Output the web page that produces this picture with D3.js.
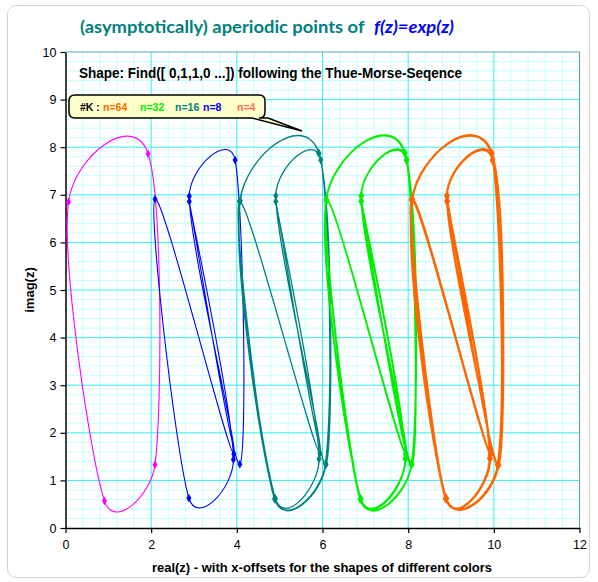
<!DOCTYPE html>
<html>
<head>
<meta charset="utf-8">
<script src="https://cdn.jsdelivr.net/npm/d3@7/dist/d3.min.js"></script>
<style>
    body { margin: 0; background: #fff; }
    text { font-family: "Liberation Sans", Arial, sans-serif; }
</style>
</head>
<body>
<div id="chart"></div>
<script>
const width = 598, height = 582;

const xTicks = [0, 2, 4, 6, 8, 10, 12];
const yTicks = [0, 1, 2, 3, 4, 5, 6, 7, 8, 9, 10];

const seriesNames = ["n=64", "n=32", "n=16", "n=8", "n=4"];
const legendColors = ["#ff6600", "#00ee00", "#008080", "#0000ff", "#ff6f50"];

// n=4, offset 0
const pointsN4 = [[0.91,0.57],[0.07,6.85],[1.93,7.86],[2.09,1.33]];

// n=8, offset 2
const pointsN8 = [[3.93,1.55],[2.89,6.97],[3.96,7.73],[4.07,1.34],[2.89,6.86],[3.92,1.44],[2.88,0.63],[2.09,6.91]];

// n=16, offset 4
const pointsN16 = [
    [4.89,0.60],[4.07,6.87],[5.92,7.87],[6.08,1.34],[4.91,6.86],[5.92,1.45],[4.90,0.62],[4.08,6.88],
    [5.91,7.88],[6.07,1.35],[4.88,0.61],[4.06,6.86],[5.94,1.57],[4.91,6.98],[5.96,7.73],[6.08,1.33]
];

// n=32, offset 6
const pointsN32 = [
    [7.94,1.55],[6.90,6.98],[7.96,7.73],[8.08,1.34],[6.90,6.86],[7.93,1.45],[6.89,0.61],[6.09,6.89],
    [7.92,7.87],[8.08,1.33],[6.88,0.60],[6.10,6.88],[7.95,1.56],[6.91,6.98],[7.97,7.74],[8.09,1.34],
    [6.90,6.87],[7.93,1.46],[6.89,0.62],[6.09,6.90],[7.94,1.55],[6.90,6.97],[7.96,7.72],[8.08,1.35],
    [6.90,0.61],[6.08,6.89],[7.93,7.88],[8.07,1.33],[6.91,6.86],[7.94,1.45],[6.89,0.60],[6.10,6.89]
];

// n=64, offset 8
const pointsN64 = [
    [8.88,0.62],[8.09,6.90],[9.95,7.87],[10.10,1.32],[8.91,6.86],[9.91,1.46],[8.89,0.61],[8.10,6.91],
    [9.94,7.88],[10.09,1.33],[8.88,0.63],[8.08,6.89],[9.92,1.55],[8.91,6.98],[9.97,7.73],[10.10,1.31],
    [8.92,6.86],[9.90,1.47],[8.87,0.62],[8.09,6.89],[9.93,1.54],[8.90,6.97],[9.98,7.74],[10.11,1.32],
    [8.89,0.62],[8.09,6.91],[9.95,7.86],[10.10,1.33],[8.91,6.87],[9.91,1.45],[8.88,0.61],[8.10,6.90],
    [9.96,7.87],[10.09,1.32],[8.88,0.62],[8.08,6.90],[9.92,1.56],[8.91,6.98],[9.97,7.72],[10.10,1.34],
    [8.89,0.63],[8.09,6.89],[9.95,7.88],[10.11,1.32],[8.90,6.86],[9.91,1.46],[8.88,0.61],[8.10,6.90],
    [9.93,1.55],[8.91,6.97],[9.97,7.73],[10.10,1.33],[8.91,6.87],[9.92,1.46],[8.87,0.62],[8.09,6.89],
    [9.94,7.87],[10.10,1.32],[8.89,0.62],[8.08,6.90],[9.92,1.54],[8.90,6.98],[9.97,7.74],[10.09,1.33]
];

// drawn from n=4 up to n=64, so the later series sit on top
const allSeries = [pointsN4, pointsN8, pointsN16, pointsN32, pointsN64];
const seriesColors = ["#ff00ff", "#0000ff", "#008080", "#00ee00", "#ff6600"];
const lineWidths = [1.1, 1.1, 1.3, 1.5, 1.7];

const plot = {left: 65.5, right: 579.5, top: 52, bottom: 528};

const x = d3.scaleLinear().domain([0, 12]).range([plot.left, plot.right]);
const y = d3.scaleLinear().domain([0, 10]).range([plot.bottom, plot.top]);

const svg = d3.select("#chart").append("svg")
    .attr("width", width)
    .attr("height", height);

// outer frame
svg.append("rect")
    .attr("x", 7.5).attr("y", 5.5)
    .attr("width", 582).attr("height", 572)
    .attr("rx", 9)
    .attr("fill", "#fff")
    .attr("stroke", "#aaa")
    .attr("stroke-dasharray", "1,1");

// grid
const minorX = d3.range(0, 12.001, 0.4).filter(v => Math.abs(v/2 - Math.round(v/2)) > 0.01);
const minorY = d3.range(0, 10.001, 0.2).filter(v => Math.abs(v - Math.round(v)) > 0.01);

svg.append("g").selectAll("line")
    .data(minorX).enter().append("line")
    .attr("x1", d => x(d)).attr("x2", d => x(d))
    .attr("y1", plot.top).attr("y2", plot.bottom)
    .attr("stroke", "#c6ffff");
svg.append("g").selectAll("line")
    .data(minorY).enter().append("line")
    .attr("x1", plot.left).attr("x2", plot.right)
    .attr("y1", d => y(d)).attr("y2", d => y(d))
    .attr("stroke", "#c6ffff");
svg.append("g").selectAll("line")
    .data(xTicks.slice(1, -1)).enter().append("line")
    .attr("x1", d => x(d)).attr("x2", d => x(d))
    .attr("y1", plot.top).attr("y2", plot.bottom)
    .attr("stroke", "#33f0f0");
svg.append("g").selectAll("line")
    .data(yTicks.slice(1, -1)).enter().append("line")
    .attr("x1", plot.left).attr("x2", plot.right)
    .attr("y1", d => y(d)).attr("y2", d => y(d))
    .attr("stroke", "#33f0f0");

// top and right border
svg.append("path")
    .attr("d", `M${plot.left},${plot.top}H${plot.right}V${plot.bottom}`)
    .attr("fill", "none")
    .attr("stroke", "#5aa8a8")
    .attr("stroke-width", 1.2);

// axes
const xAxis = svg.append("g")
    .attr("transform", `translate(0,${plot.bottom})`)
    .call(d3.axisBottom(x).tickValues(xTicks).tickSize(5).tickSizeOuter(0).tickFormat(d3.format("d")));
const yAxis = svg.append("g")
    .attr("transform", `translate(${plot.left},0)`)
    .call(d3.axisLeft(y).tickValues(yTicks).tickSize(5).tickSizeOuter(0).tickFormat(d3.format("d")));

[xAxis, yAxis].forEach(a => {
    a.select(".domain").attr("stroke", "#000").attr("stroke-width", 1.5);
    a.selectAll(".tick line").attr("stroke", "#000").attr("stroke-width", 1.2);
    a.selectAll(".tick text")
        .attr("fill", "#000")
        .style("font-family", "'Liberation Sans', Arial, sans-serif")
        .style("font-size", "12.5px");
});
xAxis.selectAll(".tick text").attr("dy", "1.05em");
yAxis.selectAll(".tick text").attr("x", -9);

// spreadsheet-style smoothing: bezier arms of 1/6 of the neighbour chord,
// capped at half the segment length
function smoothClosed (pts) {
    const p = pts.map(d => [x(d[0]), y(d[1])]);
    const n = p.length;
    const path = d3.path();
    path.moveTo(p[0][0], p[0][1]);
    for (let i=0; i<n; i++) {
        const p0 = p[(i-1+n)%n], p1 = p[i], p2 = p[(i+1)%n], p3 = p[(i+2)%n];
        const half = Math.hypot(p2[0]-p1[0], p2[1]-p1[1])/2;
        const arm = (a, b) => {
            let dx = (b[0]-a[0])/6, dy = (b[1]-a[1])/6;
            const len = Math.hypot(dx, dy);
            if (len>half) { dx *= half/len; dy *= half/len; }
            return [dx, dy];
        };
        const a1 = arm(p0, p2), a2 = arm(p1, p3);
        path.bezierCurveTo(p1[0]+a1[0], p1[1]+a1[1], p2[0]-a2[0], p2[1]-a2[1], p2[0], p2[1]);
    }
    path.closePath();
    return path.toString();
}

const diamond = d3.symbol().type(d3.symbolDiamond).size(22);

allSeries.forEach((pts, i) => {
    const g = svg.append("g");
    g.append("path")
        .attr("d", smoothClosed(pts))
        .attr("fill", "none")
        .attr("stroke", seriesColors[i])
        .attr("stroke-width", lineWidths[i]);
    g.selectAll("path.mark")
        .data(pts).enter().append("path")
        .attr("class", "mark")
        .attr("d", diamond)
        .attr("transform", d => `translate(${x(d[0])},${y(d[1])})`)
        .attr("fill", seriesColors[i]);
});

// title, one text element with two coloured parts
const title = svg.append("text")
    .attr("x", 80).attr("y", 33)
    .attr("textLength", 374).attr("lengthAdjust", "spacingAndGlyphs")
    .style("font-family", "'Comic Sans MS', Lato, sans-serif")
    .style("font-size", "17px").style("font-weight", "bold");
title.append("tspan")
    .attr("fill", "#008080")
    .text("(asymptotically) aperiodic points of ");
title.append("tspan")
    .attr("dx", 5)
    .attr("fill", "#0000ff")
    .style("font-style", "italic")
    .text("f(z)=exp(z)");

// subtitle inside plot
svg.append("text")
    .attr("x", 79).attr("y", 78)
    .attr("textLength", 383).attr("lengthAdjust", "spacingAndGlyphs")
    .style("font-size", "14px").style("font-weight", "bold")
    .attr("fill", "#000")
    .text("Shape: Find([ 0,1,1,0 ...]) following the Thue-Morse-Seqence");

// legend callout
svg.append("path")
    .attr("d", "M75,95H259Q265,95 265,101V112Q265,118 259,118H268L302,131L252,118H75Q69,118 69,112V101Q69,95 75,95Z")
    .attr("fill", "#ffffcc")
    .attr("stroke", "#000")
    .attr("stroke-width", 1.5);

const legendText = svg.append("text")
    .attr("x", 80).attr("y", 110.5)
    .style("font-size", "10.5px").style("font-weight", "bold");
legendText.append("tspan").attr("fill", "#000").text("#K : ");
const legendX = [103, 140, 175, 203, 237];
seriesNames.forEach((name, i) => {
    legendText.append("tspan")
        .attr("x", legendX[i])
        .attr("fill", legendColors[i])
        .text(name);
});

// axis titles
svg.append("text")
    .attr("transform", "translate(34,290) rotate(-90)")
    .attr("text-anchor", "middle")
    .style("font-size", "13px").style("font-weight", "bold")
    .text("imag(z)");
svg.append("text")
    .attr("x", 322).attr("y", 572)
    .attr("text-anchor", "middle")
    .style("font-size", "13px").style("font-weight", "bold")
    .text("real(z) - with x-offsets for the shapes of different colors");
</script>
</body>
</html>
